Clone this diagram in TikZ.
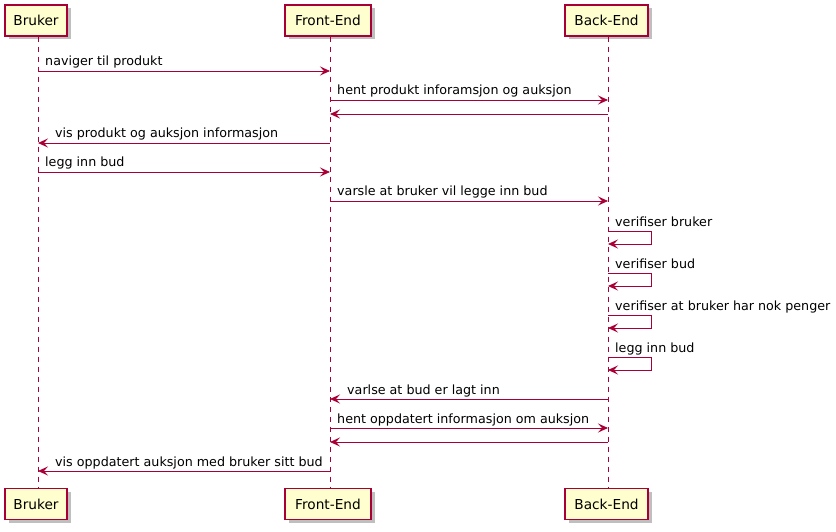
\documentclass[tikz,border=0pt]{standalone}
\usepackage{fontspec}
\setmainfont{DejaVu Sans}
\usetikzlibrary{arrows.meta,shadows}
\definecolor{pumlred}{HTML}{A80036}
\definecolor{pumlfill}{HTML}{FEFECE}
\tikzset{
  part/.style={draw=pumlred, fill=pumlfill, line width=1.1pt, minimum height=31pt, inner sep=0pt,
    font=\fontsize{13.7}{16}\selectfont,
    drop shadow={shadow xshift=3.5pt, shadow yshift=-3.5pt, fill=black, opacity=0.25}},
  life/.style={draw=pumlred, line width=0.8pt, dash pattern=on 5pt off 5pt},
  msg/.style={draw=pumlred, line width=0.9pt, -{Stealth[length=10pt,width=9pt,inset=4pt]}},
  lbl/.style={anchor=base west, inner sep=0pt, font=\fontsize{12.7}{15}\selectfont}
}
\begin{document}
\begin{tikzpicture}[x=1pt,y=-1pt]
\useasboundingbox (0,0) rectangle (836,532);
% participants
\node[part, minimum width=62pt] (Bt) at (36,20.5) {Bruker};
\node[part, minimum width=86pt] (Ft) at (328,20.5) {Front-End};
\node[part, minimum width=83pt] (Kt) at (606.5,20.5) {Back-End};
\node[part, minimum width=62pt] (Bb) at (36,504) {Bruker};
\node[part, minimum width=86pt] (Fb) at (328,504) {Front-End};
\node[part, minimum width=83pt] (Kb) at (606.5,504) {Back-End};
\coordinate (BL) at (38,0);
\coordinate (FL) at (330,0);
\coordinate (KL) at (608,0);
% lifelines
\draw[life] (BL |- Bt.south) -- (BL |- Bb.north);
\draw[life] (FL |- Ft.south) -- (FL |- Fb.north);
\draw[life] (KL |- Kt.south) -- (KL |- Kb.north);
% messages
\draw[msg] (BL |- 0,71) -- (FL |- 0,71);
\node[lbl] (t1) at (45,66) {naviger til produkt};
\draw[msg] (FL |- 0,100) -- (KL |- 0,100);
\node[lbl] (t2) at (337,95) {hent produkt inforamsjon og auksjon};
\draw[msg] (KL |- 0,114) -- (FL |- 0,114);
\draw[msg] (FL |- 0,143) -- (BL |- 0,143);
\node[lbl] (t4) at (55,138) {vis produkt og auksjon informasjon};
\draw[msg] (BL |- 0,172) -- (FL |- 0,172);
\node[lbl] (t5) at (45,167) {legg inn bud};
\draw[msg] (FL |- 0,201) -- (KL |- 0,201);
\node[lbl] (t6) at (337,196) {varsle at bruker vil legge inn bud};
% self messages
\draw[msg] (KL |- 0,231.5) -- ++(43,0) -- ++(0,12.5) -- (KL |- 0,244);
\node[lbl] (t7) at (615,226) {verifiser bruker};
\draw[msg] (KL |- 0,273.5) -- ++(43,0) -- ++(0,12.5) -- (KL |- 0,286);
\node[lbl] (t8) at (615,268) {verifiser bud};
\draw[msg] (KL |- 0,315.5) -- ++(43,0) -- ++(0,12.5) -- (KL |- 0,328);
\node[lbl] (t9) at (615,310) {verifiser at bruker har nok penger};
\draw[msg] (KL |- 0,357.5) -- ++(43,0) -- ++(0,12.5) -- (KL |- 0,370);
\node[lbl] (t10) at (615,352) {legg inn bud};
\draw[msg] (KL |- 0,399) -- (FL |- 0,399);
\node[lbl] (t11) at (347,394) {varlse at bud er lagt inn};
\draw[msg] (FL |- 0,428) -- (KL |- 0,428);
\node[lbl] (t12) at (337,423) {hent oppdatert informasjon om auksjon};
\draw[msg] (KL |- 0,442) -- (FL |- 0,442);
\draw[msg] (FL |- 0,471) -- (BL |- 0,471);
\node[lbl] (t14) at (55,466) {vis oppdatert auksjon med bruker sitt bud};
\end{tikzpicture}
\end{document}
